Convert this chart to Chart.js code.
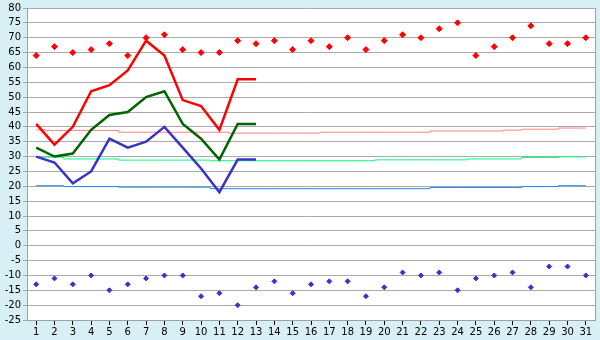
<!DOCTYPE html>
<html>
<head>
<meta charset="utf-8">
<script src="https://cdn.jsdelivr.net/npm/chart.js@4.4.0/dist/chart.umd.min.js"></script>
<style>
  html, body { margin: 0; padding: 0; background: #d9eff6; }
  #wrap { width: 600px; height: 340px; }
</style>
</head>
<body>
<div id="wrap"><canvas id="tempChart" width="600" height="340"></canvas></div>
<script>
// days of the month
const days = [];
for (let d = 1; d <= 31; d++) days.push(String(d));

// observed values (first 13 days)
const obsHigh = [41, 34, 40, 52, 54, 59, 69, 64, 49, 47, 39, 56, 56];
const obsMean = [33, 30, 31, 39, 44, 45, 50, 52, 41, 36, 29, 41, 41];
const obsLow  = [30, 28, 21, 25, 36, 33, 35, 40, 33, 26, 18, 29, 29];

// record values (diamonds)
const recHigh = [64, 67, 65, 66, 68, 64, 70, 71, 66, 65, 65, 69, 68, 69, 66, 69,
  67, 70, 66, 69, 71, 70, 73, 75, 64, 67, 70, 74, 68, 68, 70];
const recLow = [-13, -11, -13, -10, -15, -13, -11, -10, -10, -17, -16, -20, -14, -12, -16, -13,
  -12, -12, -17, -14, -9, -10, -9, -15, -11, -10, -9, -14, -7, -7, -10];

// normals (thin step lines)
const normHigh = [39.0, 38.8, 38.8, 38.8, 38.8, 38.2, 38.2, 38.2, 38.2, 38.2, 38.2,
  37.9, 37.9, 37.9, 37.9, 37.9, 38.2, 38.2, 38.2, 38.2, 38.2, 38.2,
  38.6, 38.6, 38.6, 38.6, 38.9, 39.2, 39.2, 39.6, 39.6];
const normMean = [29.8, 29.8, 29.2, 29.2, 29.2, 28.8, 28.8, 28.8, 28.8, 28.8,
  28.6, 28.6, 28.6, 28.6, 28.6, 28.6, 28.6, 28.6, 28.6,
  28.9, 28.9, 28.9, 28.9, 28.9, 29.2, 29.2, 29.2, 29.7, 29.7, 29.9, 29.9];
const normLow = [20.2, 20.2, 19.9, 19.9, 19.9, 19.7, 19.7, 19.7, 19.7, 19.7,
  19.2, 19.2, 19.2, 19.2, 19.2, 19.2, 19.2, 19.2, 19.2, 19.2, 19.2, 19.2,
  19.6, 19.6, 19.6, 19.6, 19.6, 19.9, 19.9, 20.2, 20.2];

const yMin = -25, yMax = 80, yStep = 5;

// white plot area on the light blue page
const plotBg = {
  id: 'plotBg',
  beforeDraw(chart) {
    const a = chart.chartArea;
    const c = chart.ctx;
    c.save();
    c.fillStyle = '#ffffff';
    c.fillRect(a.left, a.top, a.right - a.left, a.bottom - a.top);
    c.strokeStyle = '#a0a0a0';
    c.lineWidth = 1;
    c.beginPath();
    c.moveTo(Math.round(a.right) + 0.5, a.top);
    c.lineTo(Math.round(a.right) + 0.5, a.bottom);
    c.stroke();
    c.restore();
  }
};

function thick(data, color) {
  return { type: 'line', data: data, borderColor: color, backgroundColor: color,
    borderWidth: 2.5, pointRadius: 0, tension: 0, fill: false };
}
function normal(data, color) {
  return { type: 'line', data: data, borderColor: color, backgroundColor: color,
    borderWidth: 1, pointRadius: 0, stepped: 'middle', fill: false };
}
function marks(data, color, r) {
  return { type: 'line', data: data, showLine: false, borderColor: color, backgroundColor: color,
    pointStyle: 'rectRot', pointRadius: r, pointBorderWidth: 1, pointHoverRadius: r };
}

document.addEventListener('DOMContentLoaded', function () {
  let ctx = document.getElementById('tempChart').getContext('2d');
  let chart = new Chart(ctx, {
    data: {
      labels: days,
      datasets: [
        thick(obsHigh, '#ff0000'),
        thick(obsMean, '#006400'),
        thick(obsLow, '#3535c8'),
        marks(recHigh, '#ff0000', 3),
        marks(recLow, '#3535c8', 2.5),
        normal(normHigh, '#ff8080'),
        normal(normMean, '#00ff80'),
        normal(normLow, '#1e88f0')
      ]
    },
    options: {
      responsive: false,
      animation: false,
      layout: { padding: { top: 5, right: 5, left: 0, bottom: 0 } },
      plugins: { legend: { display: false }, tooltip: { enabled: false } },
      scales: {
        x: {
          type: 'category',
          offset: true,
          grid: { display: true, drawOnChartArea: false, drawTicks: true, tickLength: 5,
            offset: false, color: '#000000' },
          border: { color: '#a0a0a0' },
          ticks: { color: '#000000', font: { family: 'DejaVu Sans', size: 10 },
            padding: 1, maxRotation: 0, autoSkip: false },
          afterFit(scale) { scale.height = 20; }
        },
        y: {
          min: yMin,
          max: yMax,
          grid: { color: '#aaaaaa', tickLength: 4, drawTicks: true },
          border: { color: '#a0a0a0' },
          ticks: { stepSize: yStep, autoSkip: false, color: '#000000',
            font: { family: 'DejaVu Sans', size: 10 }, padding: 2 },
          afterFit(scale) { scale.width = 27; }
        }
      }
    },
    plugins: [plotBg]
  });
});
</script>
</body>
</html>
